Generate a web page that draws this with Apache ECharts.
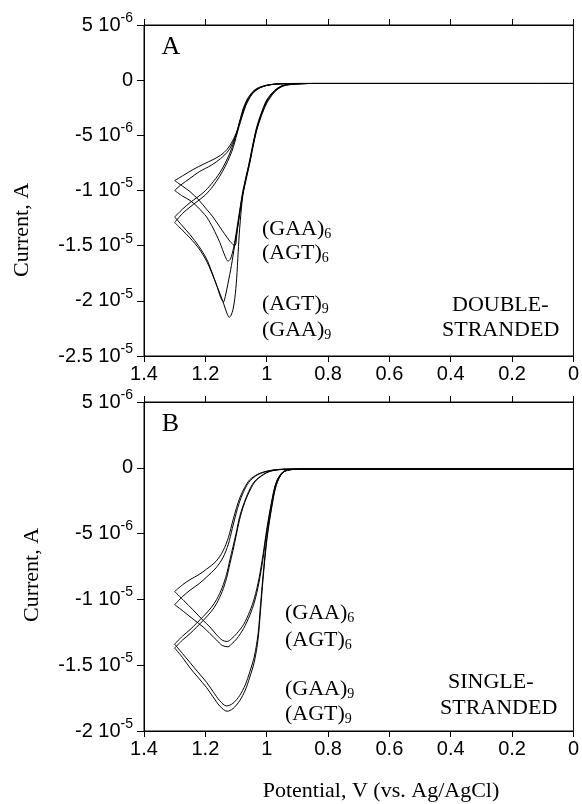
<!DOCTYPE html>
<html><head><meta charset="utf-8">
<script src="https://cdn.jsdelivr.net/npm/echarts/dist/echarts.min.js"></script>
<style>html,body{margin:0;padding:0;background:#fff}#c{width:582px;height:804px}</style>
</head><body><div id="c"></div><script>
// Potential (V) vs current (microamps); each curve is one full cycle 0 -> 1.3 V -> 0
// Panel A: double-stranded
const A_GAA6 = [[0,-0.3],[0.85,-0.3],[0.92,-0.36],[0.95,-0.5],[0.975,-0.95],[1.0,-1.8],[1.018,-3.0],[1.033,-4.3],[1.045,-5.8],[1.055,-7.2],[1.067,-8.8],[1.078,-10.3],[1.088,-12.0],[1.096,-13.6],[1.104,-15.0],[1.12,-14.6],[1.138,-13.9],[1.153,-13.3],[1.175,-12.4],[1.196,-11.7],[1.22,-10.9],[1.25,-10.1],[1.275,-9.6],[1.3,-9.1],
  [1.27,-8.6],[1.24,-8.1],[1.205,-7.6],[1.175,-7.2],[1.15,-6.8],[1.13,-6.3],[1.113,-5.6],[1.098,-4.7],[1.085,-3.4],[1.077,-2.6],[1.065,-1.8],[1.053,-1.3],[1.04,-0.9],[1.02,-0.6],[0.99,-0.4],[0.95,-0.32],[0.9,-0.3],[0,-0.3]];
const A_AGT6 = [[0,-0.3],[0.85,-0.3],[0.92,-0.37],[0.95,-0.52],[0.975,-1.0],[1.0,-1.9],[1.018,-3.1],[1.033,-4.4],[1.045,-5.9],[1.055,-7.3],[1.067,-8.7],[1.078,-10.1],[1.088,-11.8],[1.098,-13.6],[1.108,-15.2],[1.118,-16.2],[1.126,-16.4],[1.135,-16.0],[1.153,-14.7],[1.175,-13.4],[1.196,-12.4],[1.225,-11.5],[1.25,-10.9],[1.275,-10.5],[1.3,-10.0],
  [1.28,-9.5],[1.25,-8.9],[1.22,-8.3],[1.18,-7.7],[1.15,-7.1],[1.125,-6.4],[1.108,-5.5],[1.094,-4.4],[1.082,-3.2],[1.07,-2.2],[1.057,-1.5],[1.043,-1.0],[1.02,-0.65],[0.99,-0.42],[0.95,-0.33],[0.9,-0.3],[0,-0.3]];
const A_AGT9 = [[0,-0.3],[0.85,-0.3],[0.92,-0.38],[0.95,-0.55],[0.975,-1.05],[1.0,-2.0],[1.018,-3.2],[1.033,-4.5],[1.045,-6.0],[1.055,-7.4],[1.067,-8.9],[1.078,-10.3],[1.088,-12.1],[1.096,-13.6],[1.104,-14.9],[1.115,-16.8],[1.126,-18.4],[1.135,-19.6],[1.141,-20.1],[1.15,-19.7],[1.163,-18.6],[1.18,-17.3],[1.196,-16.2],[1.22,-15.1],[1.25,-14.0],[1.275,-13.2],[1.3,-12.4],
  [1.275,-11.7],[1.25,-11.1],[1.207,-10.2],[1.18,-9.4],[1.153,-8.4],[1.135,-7.5],[1.12,-6.6],[1.108,-5.7],[1.098,-4.8],[1.088,-3.8],[1.078,-2.9],[1.065,-2.0],[1.05,-1.3],[1.035,-0.9],[1.01,-0.55],[0.98,-0.38],[0.94,-0.31],[0.9,-0.3],[0,-0.3]];
const A_GAA9 = [[0,-0.3],[0.85,-0.3],[0.92,-0.39],[0.95,-0.58],[0.975,-1.1],[1.0,-2.1],[1.018,-3.3],[1.033,-4.6],[1.045,-6.1],[1.055,-7.5],[1.067,-9.0],[1.078,-10.5],[1.088,-13.4],[1.093,-15.6],[1.098,-18.0],[1.104,-19.8],[1.11,-20.8],[1.116,-21.3],[1.122,-21.5],[1.13,-21.1],[1.141,-20.2],[1.153,-19.3],[1.163,-18.6],[1.18,-17.4],[1.196,-16.4],[1.22,-15.3],[1.25,-14.3],[1.275,-13.6],[1.3,-12.9],
  [1.275,-12.1],[1.25,-11.5],[1.2,-10.4],[1.175,-9.6],[1.153,-8.7],[1.135,-7.8],[1.12,-6.9],[1.108,-6.0],[1.1,-5.2],[1.09,-4.2],[1.08,-3.3],[1.068,-2.3],[1.053,-1.5],[1.038,-1.0],[1.015,-0.6],[0.985,-0.4],[0.95,-0.32],[0.9,-0.3],[0,-0.3]];
// Panel B: single-stranded
const B_GAA6 = [[0,-0.1],[0.85,-0.1],[0.915,-0.12],[0.947,-0.3],[0.969,-1.1],[0.985,-2.7],[1.0,-4.7],[1.012,-6.6],[1.025,-8.4],[1.04,-9.9],[1.055,-10.9],[1.075,-11.9],[1.098,-12.6],[1.115,-13.0],[1.129,-13.2],[1.145,-13.1],[1.163,-12.7],[1.185,-12.1],[1.207,-11.6],[1.24,-10.8],[1.27,-10.1],[1.3,-9.4],
  [1.275,-8.9],[1.25,-8.5],[1.22,-8.1],[1.196,-7.7],[1.165,-7.1],[1.142,-6.3],[1.125,-5.3],[1.109,-3.9],[1.098,-3.0],[1.088,-2.3],[1.072,-1.5],[1.055,-0.9],[1.03,-0.5],[1.0,-0.26],[0.958,-0.12],[0.9,-0.1],[0,-0.1]];
const B_AGT6 = [[0,-0.1],[0.85,-0.1],[0.915,-0.12],[0.947,-0.32],[0.969,-1.15],[0.985,-2.8],[1.0,-4.9],[1.012,-6.9],[1.025,-8.7],[1.04,-10.2],[1.055,-11.2],[1.075,-12.2],[1.098,-13.0],[1.115,-13.4],[1.126,-13.6],[1.145,-13.5],[1.163,-13.1],[1.185,-12.6],[1.207,-12.1],[1.24,-11.5],[1.272,-10.9],[1.3,-10.4],
  [1.275,-9.8],[1.25,-9.3],[1.22,-8.8],[1.196,-8.3],[1.165,-7.6],[1.142,-6.8],[1.125,-5.8],[1.112,-4.6],[1.1,-3.5],[1.09,-2.7],[1.075,-1.8],[1.058,-1.1],[1.035,-0.6],[1.005,-0.3],[0.96,-0.13],[0.9,-0.1],[0,-0.1]];
const B_GAA9 = [[0,-0.1],[0.85,-0.1],[0.915,-0.13],[0.947,-0.35],[0.969,-1.3],[0.985,-3.1],[1.0,-5.4],[1.012,-8.2],[1.02,-10.4],[1.028,-12.6],[1.04,-14.3],[1.055,-15.5],[1.07,-16.5],[1.088,-17.3],[1.11,-17.9],[1.131,-18.1],[1.153,-17.7],[1.175,-17.0],[1.196,-16.3],[1.225,-15.5],[1.25,-14.8],[1.275,-14.1],[1.3,-13.4],
  [1.275,-12.8],[1.25,-12.3],[1.207,-11.3],[1.18,-10.6],[1.163,-10.0],[1.145,-9.1],[1.131,-8.1],[1.12,-7.0],[1.11,-6.0],[1.1,-5.0],[1.088,-3.7],[1.077,-2.9],[1.066,-2.2],[1.05,-1.4],[1.034,-0.9],[1.0,-0.35],[0.975,-0.18],[0.94,-0.11],[0.9,-0.1],[0,-0.1]];
const B_AGT9 = [[0,-0.1],[0.85,-0.1],[0.915,-0.13],[0.947,-0.36],[0.969,-1.35],[0.985,-3.2],[1.0,-5.6],[1.012,-8.5],[1.02,-10.8],[1.028,-13.0],[1.04,-14.7],[1.055,-15.9],[1.07,-16.9],[1.088,-17.7],[1.11,-18.3],[1.129,-18.5],[1.153,-18.1],[1.175,-17.4],[1.196,-16.7],[1.225,-15.9],[1.25,-15.2],[1.275,-14.4],[1.3,-13.7],
  [1.275,-13.1],[1.25,-12.6],[1.207,-11.6],[1.18,-10.9],[1.163,-10.3],[1.145,-9.4],[1.131,-8.4],[1.12,-7.3],[1.11,-6.3],[1.1,-5.2],[1.088,-3.9],[1.077,-3.0],[1.066,-2.3],[1.05,-1.5],[1.034,-0.95],[1.0,-0.37],[0.975,-0.19],[0.94,-0.11],[0.9,-0.1],[0,-0.1]];

const curvesA = [A_GAA6, A_AGT6, A_AGT9, A_GAA9];
const curvesB = [B_GAA6, B_AGT6, B_GAA9, B_AGT9];

const xTicks = [1.4, 1.2, 1.0, 0.8, 0.6, 0.4, 0.2, 0];
const xTickLabels = ['1.4', '1.2', '1', '0.8', '0.6', '0.4', '0.2', '0'];
const yTicksA = [5e-6, 0, -5e-6, -1e-5, -1.5e-5, -2e-5, -2.5e-5];
const yTicksB = [5e-6, 0, -5e-6, -1e-5, -1.5e-5, -2e-5];
const yTickMant = ['5', '0', '-5', '-1', '-1.5', '-2', '-2.5'];
const yTickExp = ['-6', '', '-6', '-5', '-5', '-5', '-5'];

const labelsA = [['(GAA)', '6'], ['(AGT)', '6'], ['(AGT)', '9'], ['(GAA)', '9']];
const labelsB = [['(GAA)', '6'], ['(AGT)', '6'], ['(GAA)', '9'], ['(AGT)', '9']];
const strandA = ['DOUBLE-', 'STRANDED'];
const strandB = ['SINGLE-', 'STRANDED'];

const SANS = 'Liberation Sans';
const SERIF = 'Liberation Serif';

function xFmt(v) {
  for (let i = 0; i < xTicks.length; i++) if (Math.abs(v - xTicks[i]) < 1e-6) return xTickLabels[i];
  return '';
}
function yFmt(v) {
  for (let i = 0; i < yTicksA.length; i++) {
    if (Math.abs(v - yTicksA[i]) < 1e-9) {
      if (!yTickExp[i]) return '{m|' + yTickMant[i] + '}';
      return '{m|' + yTickMant[i] + ' 10}{s|' + yTickExp[i] + '}';
    }
  }
  return '';
}
const yRich = {
  m: {fontSize: 20, fontFamily: SANS, color: '#000', lineHeight: 28, verticalAlign: 'middle'},
  s: {fontSize: 14, fontFamily: SANS, color: '#000', lineHeight: 14, verticalAlign: 'top'}
};

function xAxisBottom(g) {
  return {gridIndex: g, type: 'value', min: 0, max: 1.4, interval: 0.2, inverse: true, position: 'bottom',
    axisLine: {show: true, onZero: false, lineStyle: {color: '#000', width: 1}},
    axisTick: {show: true, inside: false, length: 6, lineStyle: {color: '#000', width: 1}},
    axisLabel: {show: true, fontSize: 20, fontFamily: SANS, color: '#000', margin: 8, formatter: xFmt},
    splitLine: {show: false}};
}
function xAxisTop(g) {
  return {gridIndex: g, type: 'value', min: 0, max: 1.4, interval: 0.2, inverse: true, position: 'top',
    axisLine: {show: true, onZero: false, lineStyle: {color: '#000', width: 1}},
    axisTick: {show: true, inside: false, length: 6, lineStyle: {color: '#000', width: 1}},
    axisLabel: {show: false}, splitLine: {show: false}};
}
function yAxisLeft(g, min) {
  return {gridIndex: g, type: 'value', min: min, max: 5e-6, interval: 5e-6, position: 'left',
    axisLine: {show: true, onZero: false, lineStyle: {color: '#000', width: 1}},
    axisTick: {show: true, inside: false, length: 7, lineStyle: {color: '#000', width: 1}},
    axisLabel: {show: true, margin: 11, formatter: yFmt, rich: yRich},
    splitLine: {show: false}};
}

function cycleSeries(pts, xi, yi) {
  let k = 0;
  for (let i = 1; i < pts.length; i++) if (pts[i][0] > pts[k][0]) k = i;
  const conv = p => [p[0], p[1] * 1e-6];
  const parts = [pts.slice(0, k + 1), pts.slice(k)];
  return parts.map(part => ({
    type: 'line', xAxisIndex: xi, yAxisIndex: yi, data: part.map(conv),
    smooth: 0.3, symbol: 'none', silent: true, animation: false,
    lineStyle: {color: '#000', width: 1}
  }));
}

const series = [];
curvesA.forEach(c => series.push(...cycleSeries(c, 0, 0)));
curvesB.forEach(c => series.push(...cycleSeries(c, 2, 1)));

function richLabel(txt, x, y) {
  return {type: 'text', x: x, y: y, silent: true,
    style: {text: '{t|' + txt[0] + '}{b|' + txt[1] + '}', align: 'left', verticalAlign: 'middle',
      textAlign: 'left', textVerticalAlign: 'middle',
      rich: {
        t: {fontSize: 22, fontFamily: SERIF, fill: '#000', color: '#000', lineHeight: 24, verticalAlign: 'middle'},
        b: {fontSize: 14, fontFamily: SERIF, fill: '#000', color: '#000', lineHeight: 14, verticalAlign: 'bottom'}
      }}};
}
function plainText(txt, x, y, size, align, rot) {
  return {type: 'text', x: x, y: y, rotation: rot || 0, silent: true,
    style: {text: txt, fontSize: size, fontFamily: SERIF, fill: '#000',
      align: align || 'left', verticalAlign: 'middle', textAlign: align || 'left', textVerticalAlign: 'middle'}};
}

const graphics = [];
const posA = [229, 253, 304, 330];
labelsA.forEach((l, i) => graphics.push(richLabel(l, 262, posA[i])));
const posB = [613, 640, 689, 714];
labelsB.forEach((l, i) => graphics.push(richLabel(l, 285, posB[i])));
graphics.push(plainText(strandA[0], 452, 305, 22));
graphics.push(plainText(strandA[1], 442, 330, 22));
graphics.push(plainText(strandB[0], 448, 682, 22));
graphics.push(plainText(strandB[1], 440, 708, 22));
graphics.push(plainText('A', 171, 47, 26, 'center'));
graphics.push(plainText('B', 170.5, 424, 26, 'center'));
graphics.push(plainText('Current, A', 22, 230, 22, 'center', Math.PI / 2));
graphics.push(plainText('Current, A', 32, 575, 22, 'center', Math.PI / 2));
graphics.push(plainText('Potential, V (vs. Ag/AgCl)', 381, 791, 22, 'center'));

const chart = echarts.init(document.getElementById('c'), null, {renderer: 'canvas'});
chart.setOption({
  animation: false,
  backgroundColor: '#fff',
  grid: [
    {left: 144, top: 25, width: 431, height: 331, show: true, borderColor: '#000', borderWidth: 1, backgroundColor: 'transparent'},
    {left: 144, top: 402, width: 431, height: 329, show: true, borderColor: '#000', borderWidth: 1, backgroundColor: 'transparent'}
  ],
  xAxis: [xAxisBottom(0), xAxisTop(0), xAxisBottom(1), xAxisTop(1)],
  yAxis: [yAxisLeft(0, -2.5e-5), yAxisLeft(1, -2e-5)],
  series: series,
  graphic: graphics
});
</script></body></html>
